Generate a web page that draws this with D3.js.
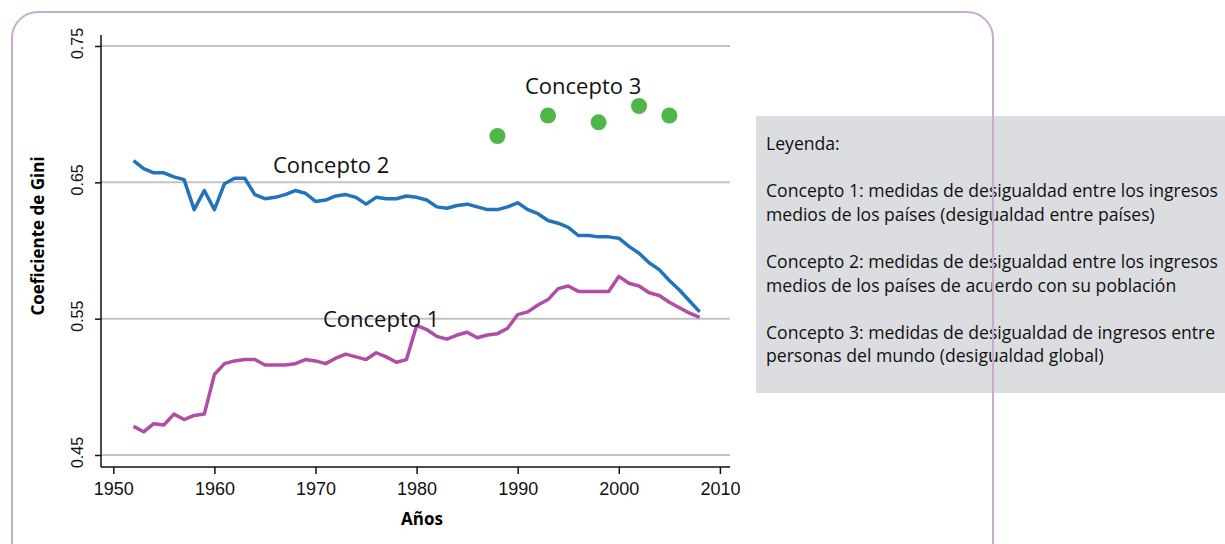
<!DOCTYPE html>
<meta charset="utf-8">
<style>
body { margin: 0; background: #fff; }
svg { font-family: "Open Sans", sans-serif; }
.grid line { stroke: #c3c3c3; stroke-width: 2px; }
.line { fill: none; stroke-width: 3.5px; stroke-linejoin: round; }
.axis text { font-size: 16px; fill: #111; }
.axis path, .axis line { stroke: #111; stroke-width: 1.5px; }
</style>
<body>
<script src="https://d3js.org/d3.v7.min.js"></script>
<script>

var years = d3.range(1952, 2009);

var concepto1 = [0.471, 0.467, 0.473, 0.472, 0.480, 0.476, 0.479, 0.480, 0.509, 0.517,
  0.519, 0.520, 0.520, 0.516, 0.516, 0.516, 0.517, 0.520, 0.519, 0.517,
  0.521, 0.524, 0.522, 0.520, 0.525, 0.522, 0.518, 0.520, 0.545, 0.542,
  0.537, 0.535, 0.538, 0.540, 0.536, 0.538, 0.539, 0.543, 0.553, 0.555,
  0.560, 0.564, 0.572, 0.574, 0.570, 0.570, 0.570, 0.570, 0.581, 0.576,
  0.574, 0.569, 0.567, 0.562, 0.558, 0.554, 0.551];

var concepto2 = [0.666, 0.660, 0.657, 0.657, 0.654, 0.652, 0.630, 0.644, 0.630, 0.649,
  0.653, 0.653, 0.641, 0.638, 0.639, 0.641, 0.644, 0.642, 0.636, 0.637,
  0.640, 0.641, 0.639, 0.634, 0.639, 0.638, 0.638, 0.640, 0.639, 0.637,
  0.632, 0.631, 0.633, 0.634, 0.632, 0.630, 0.630, 0.632, 0.635, 0.630,
  0.627, 0.622, 0.620, 0.617, 0.611, 0.611, 0.610, 0.610, 0.609, 0.603,
  0.598, 0.591, 0.586, 0.578, 0.571, 0.563, 0.555];

var concepto3Years = [1988, 1993, 1998, 2002, 2005];
var concepto3 = [0.684, 0.699, 0.694, 0.706, 0.699];

var yTicks = [0.45, 0.55, 0.65, 0.75];
var xTicks = [1950, 1960, 1970, 1980, 1990, 2000, 2010];

var legendLines = [
  "Leyenda:",
  "",
  "Concepto 1: medidas de desigualdad entre los ingresos",
  "medios de los países (desigualdad entre países)",
  "",
  "Concepto 2: medidas de desigualdad entre los ingresos",
  "medios de los países de acuerdo con su población",
  "",
  "Concepto 3: medidas de desigualdad de ingresos entre",
  "personas del mundo (desigualdad global)"
];

var svg = d3.select("body").append("svg")
    .attr("width", 1225)
    .attr("height", 544);

var x = d3.scaleLinear().domain([1950, 2010]).range([113.3, 719.9]);
var y = d3.scaleLinear().domain([0.45, 0.75]).range([455, 46]);

// legend box
svg.append("rect")
    .attr("x", 756).attr("y", 116)
    .attr("width", 480).attr("height", 277)
    .attr("fill", "#dcdde0");

svg.append("g").selectAll("text")
    .data(legendLines)
  .enter().append("text")
    .attr("x", 766)
    .attr("y", function(d, i) { return 150 + i * 23.6; })
    .style("font-size", "17.6px")
    .style("fill", "#111")
    .text(function(d) { return d; });

// frame
svg.append("rect")
    .attr("x", 12).attr("y", 12)
    .attr("width", 981).attr("height", 560)
    .attr("rx", 26)
    .attr("fill", "none")
    .attr("stroke", "#c8aacd")
    .attr("stroke-width", 2);

// grid
svg.append("g")
    .attr("class", "grid")
  .selectAll("line")
    .data(yTicks)
  .enter().append("line")
    .attr("x1", 101).attr("x2", 730)
    .attr("y1", function(d) { return y(d); })
    .attr("y2", function(d) { return y(d); });

// axes
svg.append("g")
    .attr("class", "axis")
    .attr("transform", "translate(101,0)")
    .call(d3.axisLeft(y).tickValues(yTicks).tickSize(6).tickSizeOuter(0).tickFormat(d3.format(".2f")))
    .call(function(g) {
      g.select(".domain").attr("d", "M0,35V467");
      g.selectAll(".tick text")
        .attr("x", 3).attr("y", 0).attr("dy", 0)
        .attr("text-anchor", "middle")
        .attr("transform", "translate(-18,0) rotate(-90)");
    });

svg.append("g")
    .attr("class", "axis")
    .attr("transform", "translate(0,467)")
    .call(d3.axisBottom(x).tickValues(xTicks).tickSize(7).tickSizeOuter(0).tickFormat(d3.format("d")))
    .call(function(g) {
      g.select(".domain").attr("d", "M101,0H730");
      g.selectAll(".tick text").attr("y", 15).style("font-size", "18px");
    });

svg.append("text")
    .attr("x", 422).attr("y", 525)
    .attr("text-anchor", "middle")
    .style("font-size", "17px").style("font-weight", "bold")
    .text("Años");

svg.append("text")
    .attr("transform", "translate(44,236) rotate(-90)")
    .attr("text-anchor", "middle")
    .style("font-size", "17px").style("font-weight", "bold")
    .text("Coeficiente de Gini");

// lines
var line1 = d3.line()
    .x(function(d, i) { return x(years[i]); })
    .y(function(d) { return y(d); });

svg.append("path")
    .datum(concepto2)
    .attr("class", "line")
    .style("stroke", "#2273ba")
    .attr("d", line1);

svg.append("path")
    .datum(concepto1)
    .attr("class", "line")
    .style("stroke", "#b04da4")
    .attr("d", line1);

svg.append("g").selectAll("circle")
    .data(concepto3)
  .enter().append("circle")
    .attr("cx", function(d, i) { return x(concepto3Years[i]); })
    .attr("cy", function(d) { return y(d); })
    .attr("r", 8)
    .attr("fill", "#4fb748");

// series labels
var labels = [
  {t: "Concepto 2", x: 273, y: 173},
  {t: "Concepto 1", x: 323, y: 327},
  {t: "Concepto 3", x: 525, y: 94}
];
svg.append("g").selectAll("text")
    .data(labels)
  .enter().append("text")
    .attr("x", function(d) { return d.x; })
    .attr("y", function(d) { return d.y; })
    .style("font-size", "22px")
    .style("fill", "#111")
    .text(function(d) { return d.t; });

</script>
</body>
